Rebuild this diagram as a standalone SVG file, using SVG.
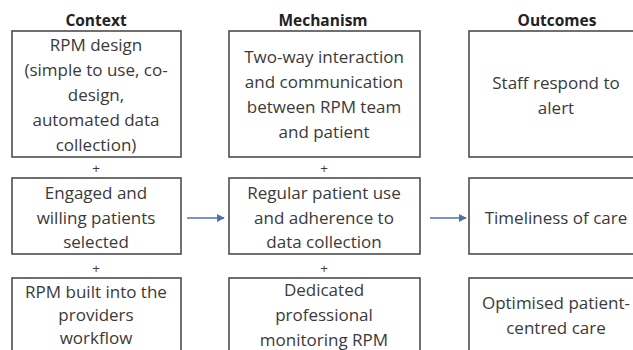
<svg xmlns="http://www.w3.org/2000/svg" width="633" height="350" viewBox="0 0 633 350">
<style>
.box{fill:#fff;stroke:#4d4d4d;stroke-width:1.6}
.t{font-family:"Open Sans","Noto Sans",sans-serif;font-size:17px;fill:#3a3a3a;text-anchor:middle}
.h{font-family:"Open Sans","Noto Sans",sans-serif;font-size:15.5px;font-weight:bold;fill:#222;text-anchor:middle}
.p{font-family:"Open Sans","Noto Sans",sans-serif;font-size:13.5px;fill:#3a3a3a;text-anchor:middle}
.conn{stroke:#4f72a8;stroke-width:1.5;fill:none}
</style>
<defs>
<marker id="ah" viewBox="0 0 10 10" refX="9" refY="5" markerWidth="8" markerHeight="8" markerUnits="userSpaceOnUse" orient="auto">
<path d="M0,0 L10,5 L0,10 z" fill="#4f72a8"/>
</marker>
</defs>
<rect width="633" height="350" fill="#fff"/>
<g id="headers">
<text class="h" x="96" y="26">Context</text>
<text class="h" x="323" y="26">Mechanism</text>
<text class="h" x="557" y="26">Outcomes</text>
</g>
<g id="plus">
<text class="p" x="96" y="173">+</text>
<text class="p" x="324" y="173">+</text>
<text class="p" x="96" y="273">+</text>
<text class="p" x="324" y="273">+</text>
</g>
<g id="c1">
<rect class="box" x="12" y="31" width="169" height="126"/>
<text class="t" x="96" y="51">RPM design</text>
<text class="t" x="96" y="76">(simple to use, co-</text>
<text class="t" x="96" y="101">design,</text>
<text class="t" x="96" y="126">automated data</text>
<text class="t" x="96" y="151">collection)</text>
</g>
<g id="m1">
<rect class="box" x="229" y="31" width="191" height="126"/>
<text class="t" x="324" y="63">Two-way interaction</text>
<text class="t" x="324" y="88">and communication</text>
<text class="t" x="324" y="113">between  RPM team</text>
<text class="t" x="324" y="138">and patient</text>
</g>
<g id="o1">
<rect class="box" x="469" y="31" width="175" height="126"/>
<text class="t" x="556" y="89">Staff respond to</text>
<text class="t" x="556" y="114">alert</text>
</g>
<g id="c2">
<rect class="box" x="12" y="178" width="169" height="76"/>
<text class="t" x="96" y="199">Engaged and</text>
<text class="t" x="96" y="224">willing patients</text>
<text class="t" x="96" y="248">selected</text>
</g>
<g id="m2">
<rect class="box" x="229" y="178" width="191" height="76"/>
<text class="t" x="324" y="199">Regular patient use</text>
<text class="t" x="324" y="224">and adherence to</text>
<text class="t" x="324" y="248">data collection</text>
</g>
<g id="o2">
<rect class="box" x="469" y="178" width="175" height="76"/>
<text class="t" x="556" y="224">Timeliness of care</text>
</g>
<g id="c3">
<rect class="box" x="12" y="278" width="169" height="90"/>
<text class="t" x="96" y="298">RPM built into the</text>
<text class="t" x="96" y="321">providers</text>
<text class="t" x="96" y="344">workflow</text>
</g>
<g id="m3">
<rect class="box" x="229" y="278" width="191" height="90"/>
<text class="t" x="324" y="296">Dedicated</text>
<text class="t" x="324" y="321">professional</text>
<text class="t" x="324" y="346">monitoring RPM</text>
</g>
<g id="o3">
<rect class="box" x="469" y="278" width="175" height="90"/>
<text class="t" x="556" y="309">Optimised patient-</text>
<text class="t" x="556" y="334">centred care</text>
</g>
<g id="connectors">
<line class="conn" x1="187" y1="218" x2="224" y2="218" marker-end="url(#ah)"/>
<line class="conn" x1="430" y1="218" x2="466" y2="218" marker-end="url(#ah)"/>
</g>
</svg>
